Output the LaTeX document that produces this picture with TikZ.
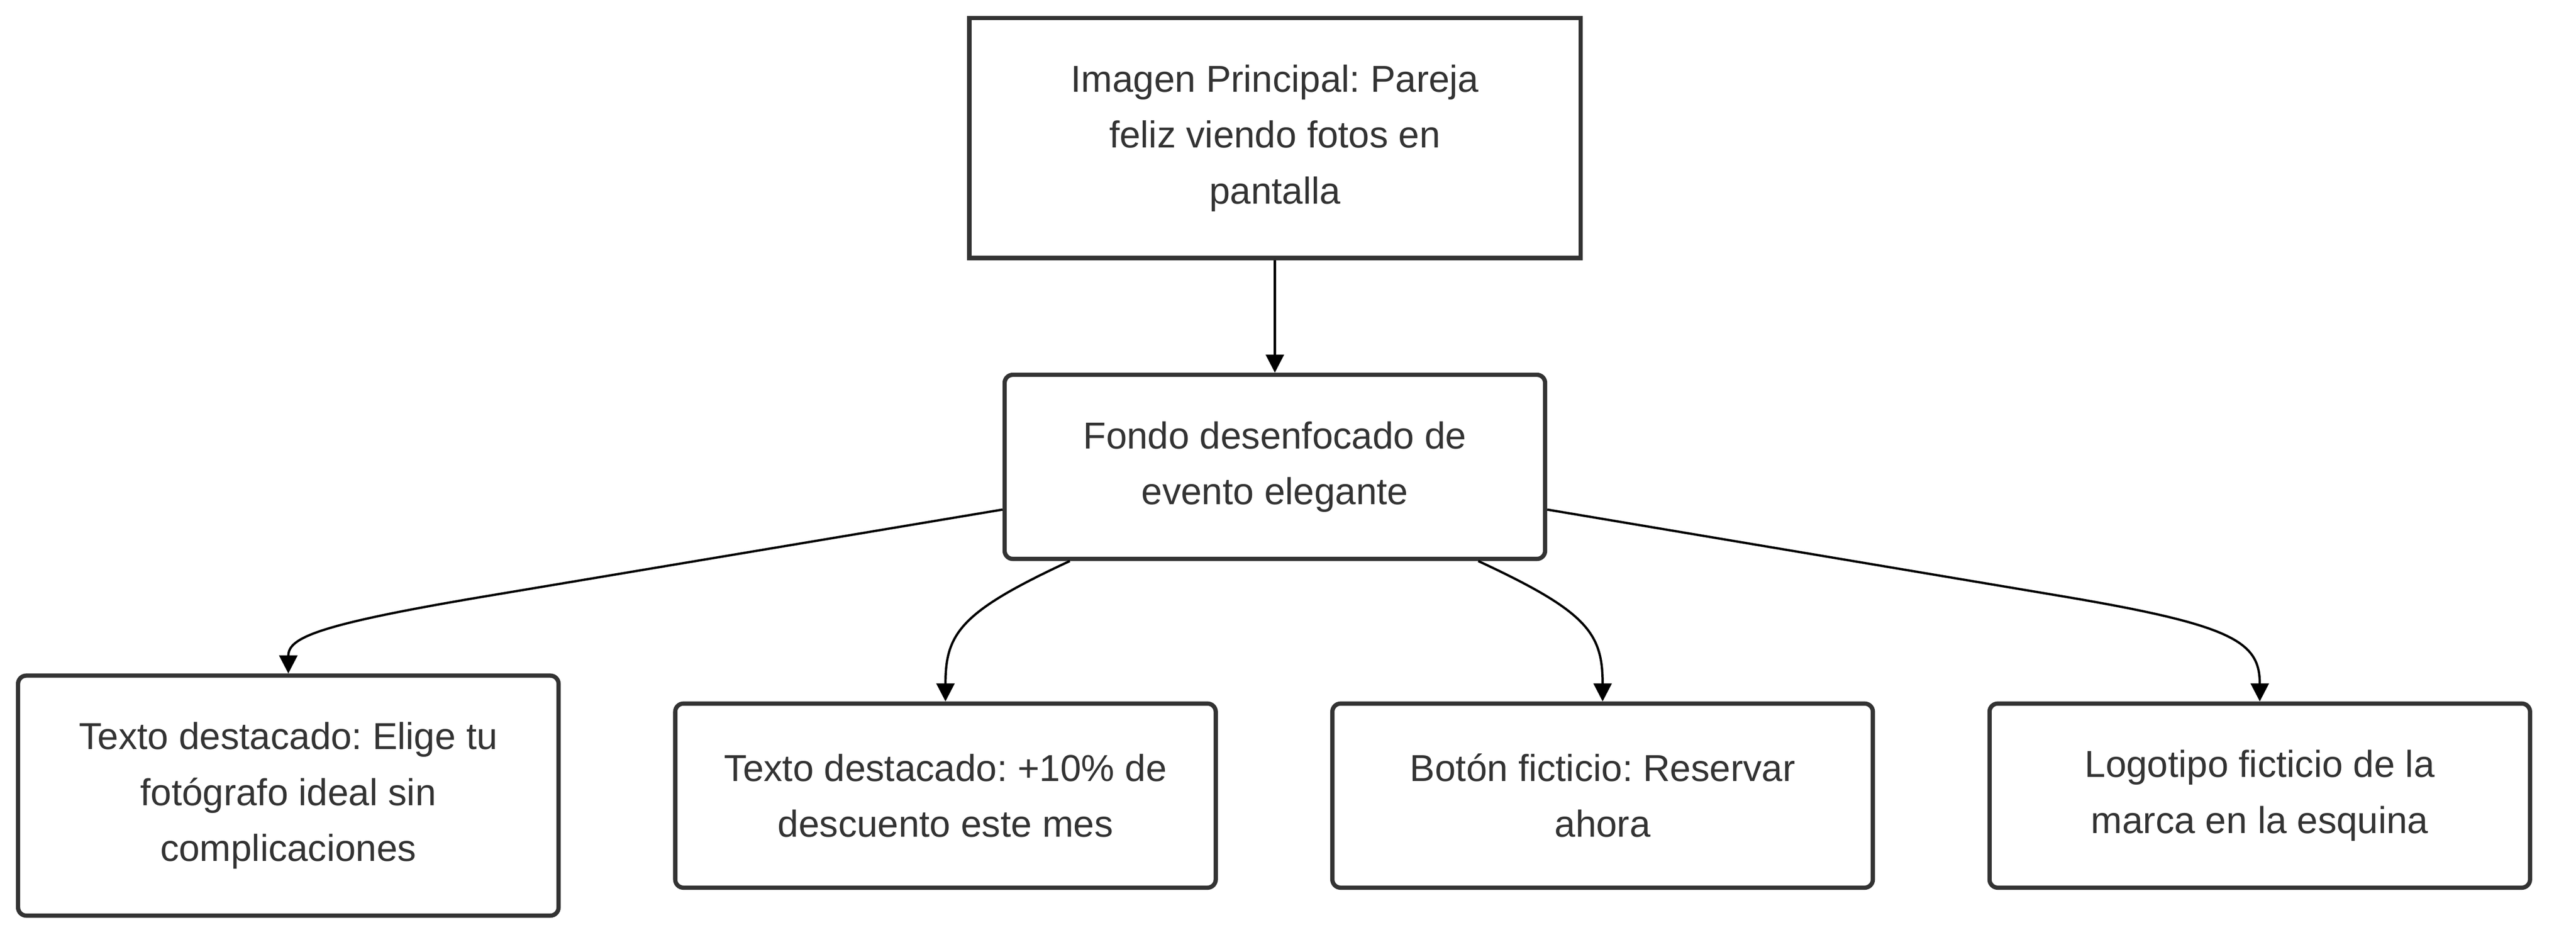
\documentclass[tikz,border=0pt]{standalone}
\usepackage{fontspec}
\setmainfont{Liberation Sans}
\usetikzlibrary{arrows.meta,calc}
\definecolor{bordc}{HTML}{333333}
\definecolor{txtc}{HTML}{333333}
\frenchspacing
\begin{document}
\begin{tikzpicture}[x=0.5pt,y=-0.5pt,
  boxbase/.style={draw=bordc,fill=white,line width=1.3pt,inner sep=0pt,align=center,
     text=txtc,font=\fontsize{11.4pt}{17pt}\selectfont},
  sqbox/.style={boxbase,minimum width=186pt,minimum height=73pt},
  rdbox/.style={boxbase,rounded corners=2.5pt,minimum width=164.5pt,minimum height=56pt},
  tallbox/.style={rdbox,minimum height=73pt},
  arr/.style={draw=black,line width=0.7pt,-{Triangle[length=5.5pt,width=5.5pt]}}]
\useasboundingbox (0,0) rectangle (1568,576);
\node[sqbox] (top) at (776,84) {Imagen Principal: Pareja\\feliz viendo fotos en\\pantalla};
\node[rdbox] (mid) at (776,284) {Fondo desenfocado de\\evento elegante};
\node[tallbox] (b1) at (175.5,484) {Texto destacado: Elige tu\\fotógrafo ideal sin\\complicaciones};
\node[rdbox] (b2) at (575.5,484) {Texto destacado: +10\% de\\descuento este mes};
\node[rdbox] (b3) at (975.5,484) {Botón ficticio: Reservar\\ahora};
\node[rdbox] (b4) at (1375.5,484) {Logotipo ficticio de la\\marca en la esquina};
\draw[arr] (top.south) -- (mid.north);
\draw[arr] ([yshift=-13pt]mid.west) -- (300,362) .. controls (192,380) and (175.5,388) .. (b1.north);
\draw[arr] ([xshift=20.5pt]mid.south west) .. controls (585,372) and (575.5,385) .. (b2.north);
\draw[arr] ([xshift=-21pt]mid.south east) .. controls (966,372) and (975.5,385) .. (b3.north);
\draw[arr] ([yshift=-13pt]mid.east) -- (1251,362) .. controls (1359,380) and (1375.5,390) .. (b4.north);
\end{tikzpicture}
\end{document}
